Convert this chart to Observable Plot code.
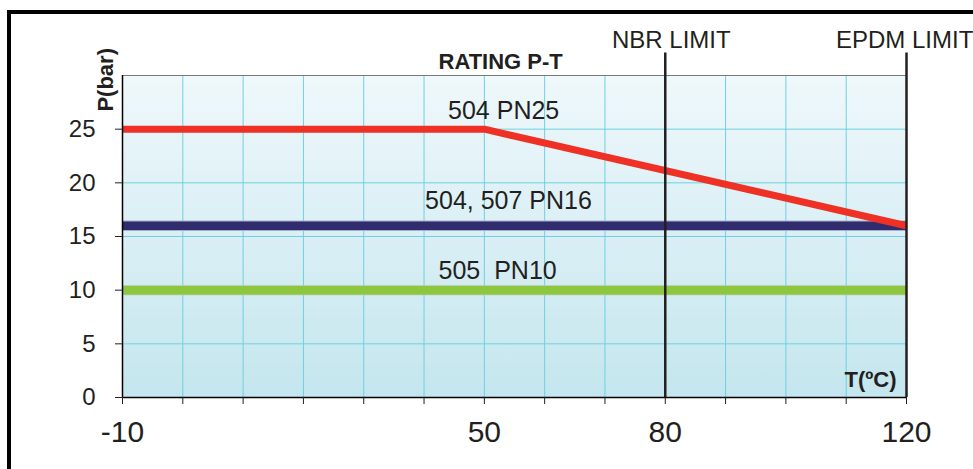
<!DOCTYPE html>
<html>
<head>
<meta charset="utf-8">
<script src="https://cdn.jsdelivr.net/npm/d3@7"></script>
<script src="https://cdn.jsdelivr.net/npm/@observablehq/plot@0.6"></script>
<style>
  html, body { margin: 0; padding: 0; background: #fff; overflow: hidden; }
  #wrap { position: relative; width: 973px; height: 469px; }
  #frame { position: absolute; left: 7px; top: 10px; width: 980px; height: 480px;
           border-left: 4px solid #000; border-top: 4px solid #000; pointer-events: none; }
</style>
</head>
<body>
<div id="wrap"><div id="chart"></div><div id="frame"></div></div>
<script>
// ---- data ----
const pn25T = [-10, 50, 120];
const pn25P = [25, 25, 16];
const pn16T = [-10, 120];
const pn16P = [16, 16];
const pn10T = [-10, 120];
const pn10P = [10, 10];
const limitT = [80, 120];
const limitNames = ["NBR LIMIT", "EPDM LIMIT"];
const seriesNames = ["504 PN25", "504, 507 PN16", "505  PN10"];
const xTicks = [-10, 0, 10, 20, 30, 40, 50, 60, 70, 80, 90, 100, 110, 120];
const xTickLabels = [-10, 50, 80, 120];
const yTicks = [0, 5, 10, 15, 20, 25];

const pn25 = pn25T.map((t, i) => ({t, p: pn25P[i]}));
const pn16 = pn16T.map((t, i) => ({t, p: pn16P[i]}));
const pn10 = pn10T.map((t, i) => ({t, p: pn10P[i]}));

const font = "'Liberation Sans', Arial, Helvetica, sans-serif";
const ink = "#231f20";

const chart = Plot.plot({
  width: 973,
  height: 469,
  marginLeft: 122,
  marginRight: 67,
  marginTop: 75,
  marginBottom: 72,
  style: {fontFamily: font, color: ink, background: "transparent", overflow: "visible"},
  x: {domain: [-10, 120]},
  y: {domain: [0, 30]},
  marks: [
    Plot.frame({fill: "url(#bgGrad)", stroke: null}),
    Plot.gridX(xTicks.filter(d => d > -10 && d < 120), {stroke: "#6fd0e2", strokeOpacity: 1, strokeWidth: 1}),
    Plot.gridY(yTicks.filter(d => d > 0), {stroke: "#6fd0e2", strokeOpacity: 1, strokeWidth: 1}),
    Plot.ruleY([30], {stroke: "#7a7a7a", strokeWidth: 1.2}),
    // series
    Plot.line(pn10, {x: "t", y: "p", stroke: "#b9c9a0", strokeWidth: 10, strokeLinecap: "butt"}),
    Plot.line(pn10, {x: "t", y: "p", stroke: "#8dc63f", strokeWidth: 8.5, strokeLinecap: "butt"}),
    Plot.line(pn16, {x: "t", y: "p", stroke: "#a7aecb", strokeWidth: 10.5, strokeLinecap: "butt"}),
    Plot.line(pn16, {x: "t", y: "p", stroke: "#312c6e", strokeWidth: 8.5, strokeLinecap: "butt"}),
    Plot.line(pn25, {x: "t", y: "p", stroke: "#ee3124", strokeWidth: 7, strokeLinecap: "butt", strokeLinejoin: "miter"}),
    // limit lines
    Plot.ruleX(limitT, {y1: 0, y2: 32.1, stroke: ink, strokeWidth: 2.5}),
    // axes
    Plot.ruleX([-10], {stroke: "#000", strokeWidth: 1.5}),
    Plot.ruleY([0], {stroke: "#000", strokeWidth: 1.5}),
    Plot.axisY({ticks: yTicks, tickSize: 7, tickPadding: 20, fontSize: 24, label: null, stroke: ink}),
    Plot.axisX({ticks: xTicks, tickSize: 7, tickPadding: 16, fontSize: 30, label: null, stroke: ink,
                tickFormat: d => xTickLabels.includes(d) ? String(d) : ""}),
    // labels
    Plot.text([seriesNames[0]], {x: 53.2, y: 26.7, text: d => d, fontSize: 25, fill: ink}),
    Plot.text([seriesNames[1]], {x: 54, y: 18.3, text: d => d, fontSize: 25, fill: ink}),
    Plot.text([seriesNames[2]], {x: 52.2, y: 11.8, text: d => d, fontSize: 25, fill: ink}),
    Plot.text(limitT, {x: (d, i) => d + [1, -0.3][i], y: 33.3, text: (d, i) => limitNames[i], fontSize: 24, fill: ink}),
    Plot.text(["RATING P-T"], {x: 52.7, y: 31.3, text: d => d, fontSize: 22, fontWeight: "bold", fill: ink}),
    Plot.text(["P(bar)"], {x: -10, y: 29.6, dx: -17, rotate: -90, text: d => d, fontSize: 22, fontWeight: "bold", fill: ink}),
    Plot.text(["T(ºC)"], {x: 120, y: 1.6, dx: -10, textAnchor: "end", text: d => d, fontSize: 22, fontWeight: "bold", fill: ink})
  ]
});

const ns = "http://www.w3.org/2000/svg";
const defs = document.createElementNS(ns, "defs");
defs.innerHTML = `<linearGradient id="bgGrad" x1="0" y1="0" x2="0" y2="1">
  <stop offset="0" stop-color="#eff8fb"/>
  <stop offset="1" stop-color="#c4e6ee"/>
</linearGradient>`;
chart.insertBefore(defs, chart.firstChild);
document.getElementById("chart").appendChild(chart);
</script>
</body>
</html>
